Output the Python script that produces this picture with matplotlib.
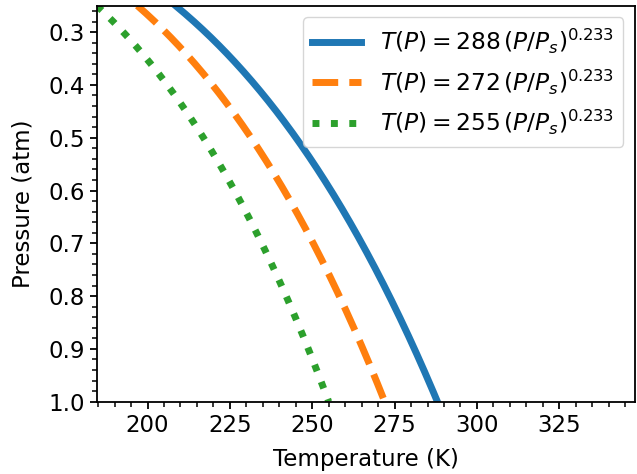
import numpy as np
import matplotlib
matplotlib.use('Agg')
import matplotlib.pyplot as plt
from matplotlib.ticker import MultipleLocator

# surface temperatures (K) and lapse exponent from the legend
surface_temps = [288, 272, 255]
exponent = 0.233
line_styles = ['-', '--', ':']
colors = ['#1f77b4', '#ff7f0e', '#2ca02c']

# pressure grid (atm), Ps = 1 atm
pressure = np.linspace(0.25, 1.0, 200)

plt.rcParams['font.size'] = 16.5
plt.rcParams['axes.linewidth'] = 1.3
for ax_name in ('xtick', 'ytick'):
    plt.rcParams[ax_name + '.major.size'] = 5
    plt.rcParams[ax_name + '.minor.size'] = 3.5
    plt.rcParams[ax_name + '.major.width'] = 1.3
    plt.rcParams[ax_name + '.minor.width'] = 1.1

fig, ax = plt.subplots(figsize=(6.37, 4.74), dpi=100)
fig.subplots_adjust(left=0.152, right=0.997, top=0.988, bottom=0.1525)

for t0, ls, c in zip(surface_temps, line_styles, colors):
    temp = t0 * pressure ** exponent
    ax.plot(temp, pressure, ls=ls, color=c, lw=5,
            label=r'$T(P) = %d\,(P/P_s)^{%.3f}$' % (t0, exponent))

ax.set_ylim(1.0, 0.25)
ax.set_xlim(min(surface_temps) * 0.25 ** exponent, 348)
ax.xaxis.set_major_locator(MultipleLocator(25))
ax.xaxis.set_minor_locator(MultipleLocator(5))
ax.yaxis.set_major_locator(MultipleLocator(0.1))
ax.yaxis.set_minor_locator(MultipleLocator(0.02))
ax.set_xlabel('Temperature (K)', labelpad=8)
ax.set_ylabel('Pressure (atm)', labelpad=10)
ax.legend(loc='upper right', fontsize=16.8, handlelength=2.1)

fig.savefig('out.png')
